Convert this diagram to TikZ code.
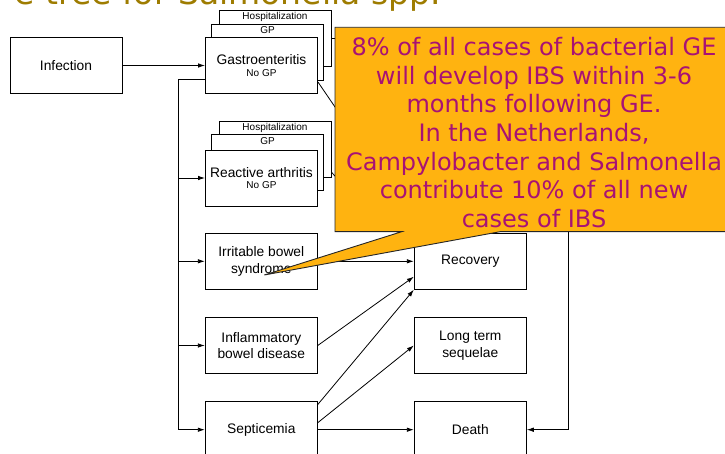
\documentclass[tikz,border=0pt]{standalone}
\usepackage{fontspec}
\setmainfont{Liberation Sans}
\newfontfamily\verd{DejaVu Sans}
\usetikzlibrary{arrows.meta,calc}
\definecolor{callfill}{RGB}{255,179,16}
\definecolor{calltext}{RGB}{168,18,116}
\definecolor{titlecol}{RGB}{158,124,0}
\begin{document}
\begin{tikzpicture}[x=1pt,y=-1pt,
  box/.style={draw=black,line width=0.9pt,fill=white,minimum width=112pt,minimum height=56pt,inner sep=0pt,align=center,font=\fontsize{13.8}{16.5}\selectfont},
  back/.style={draw=black,line width=0.9pt,fill=white,minimum width=112pt,minimum height=56pt,inner sep=0pt},
  small/.style={font=\fontsize{10}{12}\selectfont,inner sep=0pt},
  arr/.style={line width=0.8pt,-{Latex[length=7pt,width=4.5pt]}},
  ln/.style={line width=0.8pt}]
\useasboundingbox (0,0) rectangle (725,454);
\clip (0,0) rectangle (725,454);
\fill[white] (0,0) rectangle (725,454);

\node[anchor=base east,font=\verd\fontsize{33}{40}\selectfont,text=titlecol,inner sep=0pt] (title) at (441,5) {e tree for Salmonella spp.};

\node[box] (inf) at (66,65.5) {Infection};

% Gastroenteritis stack
\node[back] (gh) at (275,38) {};
\node[small] (ghl) at (275,16.5) {Hospitalization};
\node[back] (gg) at (267.5,52) {};
\node[small] (ggl) at (267.5,30.5) {GP};
\node[box] (gf) at (261.5,65.5) {Gastroenteritis\\[-4.9pt]{\fontsize{10}{12}\selectfont No GP}};

% Reactive arthritis stack
\node[back] (rh) at (275,149.7) {};
\node[small] (rhl) at (275,127.5) {Hospitalization};
\node[back] (rg) at (267.5,162) {};
\node[small] (rgl) at (267.5,141) {GP};
\node[box] (rf) at (261.5,178) {Reactive arthritis\\[-4.9pt]{\fontsize{10}{12}\selectfont No GP}};

\node[box] (ibs) at (261.3,261.3) {Irritable bowel\\syndrome};
\node[box] (ibd) at (261.3,345.5) {Inflammatory\\bowel disease};
\node[box] (sep) at (261.3,429.7) {Septicemia};
\node[box] (rec) at (470.3,261.3) {Recovery};
\node[box] (lts) at (470.3,345.5) {Long term\\sequelae};
\node[box] (death) at (470.3,429.7) {Death};

% connectors
\draw[arr] (inf) -- (gf);
\coordinate (bus) at (178.7,79.3);
\draw[ln] (gf.west |- bus) -- (bus);
\draw[arr] (bus) |- (sep.west);
\draw[arr] (bus |- rf.west) -- (rf.west);
\draw[arr] (bus |- ibs.west) -- (ibs.west);
\draw[arr] (bus |- ibd.west) -- (ibd.west);

\draw[arr] (ibs) -- (rec);
\draw[arr] (ibd.east) -- ($(rec.west)+(0,15.4)$);
\draw[arr] ($(sep.north east)+(0,3.3)$) -- (rec.south west);
\draw[arr] ($(sep.east)+(0,-7)$) -- (lts.west);
\draw[arr] (sep) -- (death);

\coordinate (dtop) at (568.3,38);
\draw[arr] (gh.east |- dtop) -- (dtop) |- (death.east);
\coordinate (gd) at (421,233);
\draw[ln] ($(gf.east)+(0,16.5)$) -- (gd);
\coordinate (rd) at (380,225);
\draw[ln] ($(rh.east)+(0,22.5)$) -- (rd);

% callout
\path[draw=black!85,line width=0.9pt,fill=callfill] (335,27.3) -- (740,27.3) -- (740,231.7) -- (500,231.7) -- (264.3,275) -- (401.7,231.7) -- (335,231.7) -- cycle;
\node[font=\verd\fontsize{24}{28.6}\selectfont,text=calltext,align=center,inner sep=0pt,anchor=north] (note) at (534,37.3) {8\% of all cases of bacterial GE\\will develop IBS within 3-6\\months following GE.\\In the Netherlands,\\Campylobacter and Salmonella\\contribute 10\% of all new\\cases of IBS};
\end{tikzpicture}
\end{document}
